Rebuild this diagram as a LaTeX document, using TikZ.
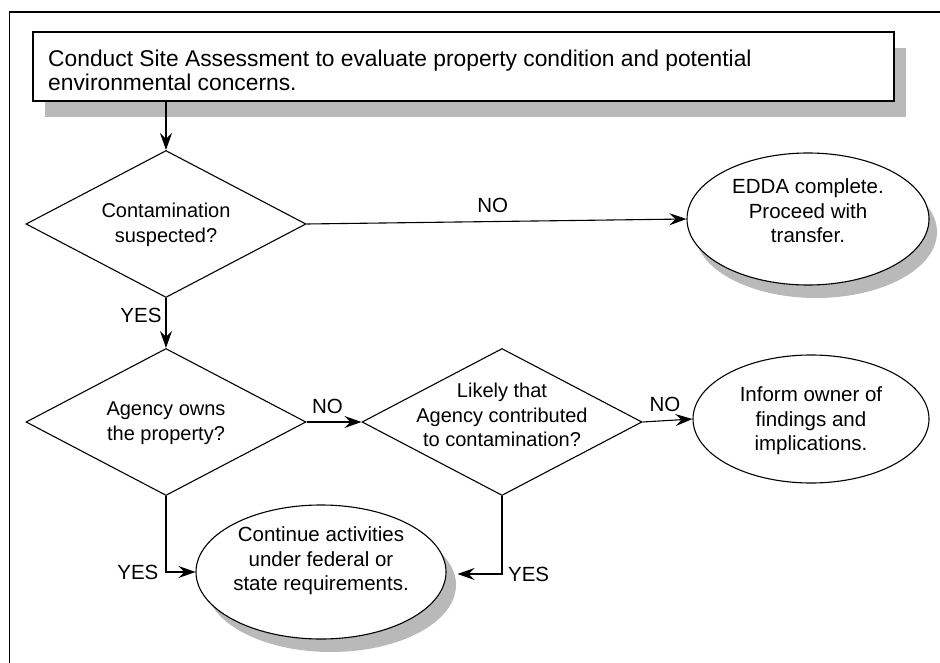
\documentclass[tikz,border=0pt]{standalone}
\usepackage{fontspec}
\setmainfont{Liberation Sans}
\usetikzlibrary{shapes.geometric,shadows,arrows.meta}
\begin{document}
\begin{tikzpicture}[x=1pt,y=-1pt,
  every node/.style={font=\fontsize{20.5}{24.5}\selectfont},
  txt/.style={align=center,inner sep=0pt},
  dtxt/.style={align=center,inner sep=0pt,font=\fontsize{20}{24.5}\selectfont},
  lbl/.style={inner sep=0pt},
  dia/.style={draw,shape=diamond,line width=1.1pt,minimum width=280pt,minimum height=147pt,inner sep=0pt,fill=white},
  oval/.style={draw,shape=ellipse,line width=1.1pt,inner sep=0pt,fill=white},
  shad/.style={drop shadow={shadow xshift=#1,shadow yshift=-13pt,fill=gray!55,opacity=1}},
  arr/.style={line width=1.1pt,-{Stealth[length=17pt,width=12pt,inset=6pt]}}
]
\useasboundingbox (0,0) rectangle (940,663);
% outer frame
\draw[line width=1.3pt] (9.5,663) -- (9.5,12) -- (940,12);

% top box
\node[draw,line width=1.1pt,fill=white,minimum width=861pt,minimum height=69pt,inner sep=0pt,
      drop shadow={shadow xshift=12pt,shadow yshift=-16pt,fill=gray!55,opacity=1}]
      (box) at (463.5,66.5) {};
\node[anchor=base west,align=left,inner sep=0pt,font=\fontsize{22.8}{24.5}\selectfont] (boxtxt) at (48,91)
  {Conduct Site Assessment to evaluate property condition and potential\\environmental concerns.};

% decisions
\node[dia] (d1) at (166,224) {};
\node[dtxt] (t1) at (166,225) {Contamination\\suspected?};
\node[dia] (d2) at (166,422) {};
\node[dtxt] (t2) at (166,423) {Agency owns\\the property?};
\node[dia] (d3) at (502,422) {};
\node[dtxt] (t3) at (502,415) {Likely that\\Agency contributed\\to contamination?};

% terminals
\node[oval,shad=8pt,minimum width=242pt,minimum height=132pt] (e1) at (808,219) {};
\node[txt] (te1) at (808,211) {EDDA complete.\\Proceed with\\transfer.};
\node[oval,minimum width=236pt,minimum height=128pt] (e3) at (811,419) {};
\node[txt] (te3) at (811,421) {Inform owner of\\findings and\\implications.};
\node[oval,shad=10pt,minimum width=250pt,minimum height=134pt] (e2) at (321,572) {};
\node[txt] (te2) at (321,561) {Continue activities\\under federal or\\state requirements.};
\coordinate (e2s) at ([xshift=11pt,yshift=-2pt]e2.east);

% connectors
\draw[arr] (box.south -| d1.north) -- (d1.north);
\draw[arr] (d1.east) -- (e1.west) node[lbl,pos=0.49,anchor=south,yshift=8pt] {NO};
\draw[arr] (d1.south) -- (d2.north) node[lbl,pos=0.35,anchor=east,xshift=-4pt] {YES};
\draw[arr] (d2.east) -- (d3.west) node[lbl,pos=0.38,anchor=south,yshift=8pt] {NO};
\draw[arr] (d3.east) -- (e3.west) node[lbl,pos=0.45,anchor=south,yshift=8pt] {NO};
\draw[arr] (d2.south) |- (e2.west) node[lbl,pos=0.55,anchor=east,xshift=-10pt] {YES};
\draw[arr] (d3.south) |- (e2s) node[lbl,pos=0.55,anchor=west,xshift=10pt] {YES};
\end{tikzpicture}
\end{document}
